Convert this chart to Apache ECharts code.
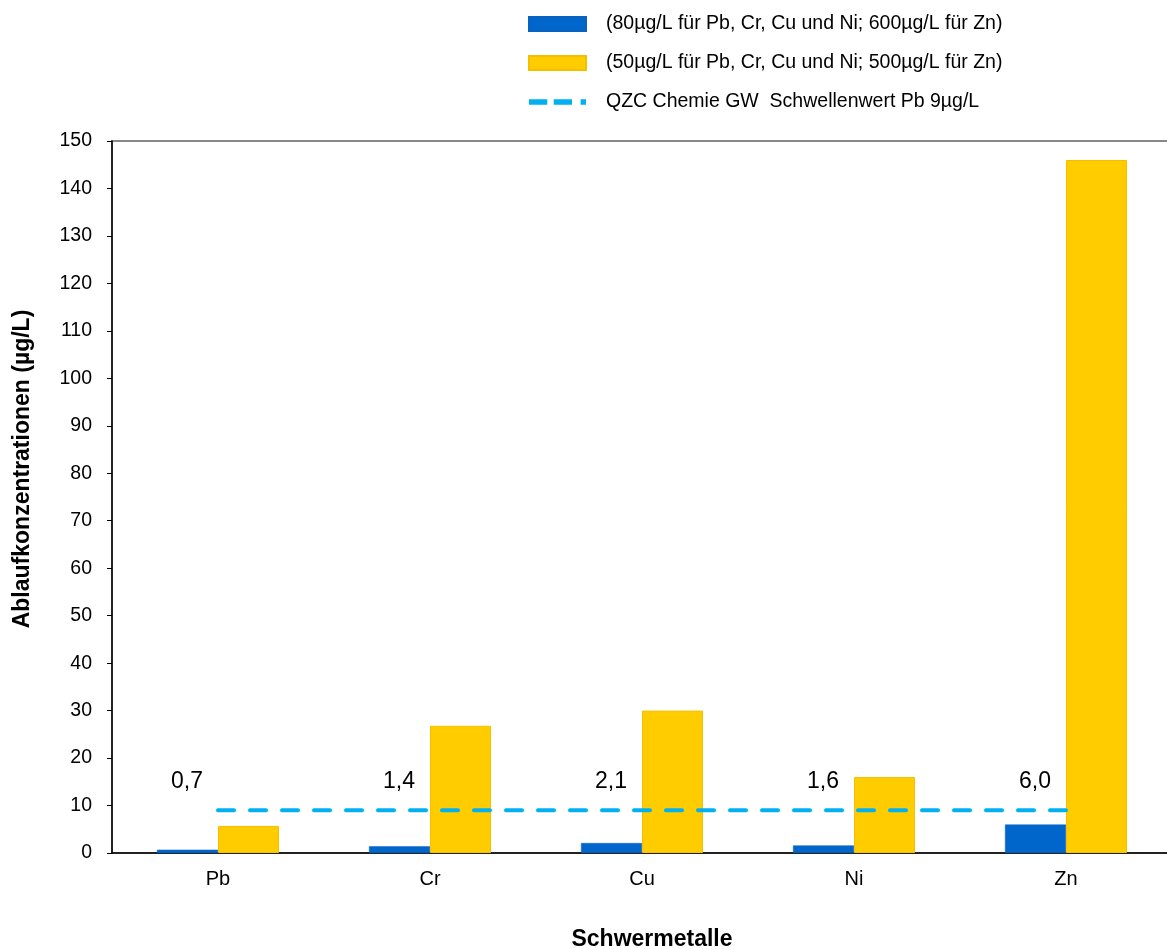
<!DOCTYPE html>
<html lang="de">
<head>
    <meta charset="UTF-8">
    <title>Schwermetalle</title>
    <script src="https://cdn.jsdelivr.net/npm/echarts@6/dist/echarts.min.js"></script>
    <style>
        html, body { margin: 0; padding: 0; background: #fff; }
        #cc { width: 1167px; height: 949px; }
    </style>
</head>
<body>
<div id="cc"></div>
<script>
var categories = ['Pb', 'Cr', 'Cu', 'Ni', 'Zn'];
var blueName = '(80µg/L für Pb, Cr, Cu und Ni; 600µg/L für Zn)';
var yellowName = '(50µg/L für Pb, Cr, Cu und Ni; 500µg/L für Zn)';
var lineName = 'QZC Chemie GW  Schwellenwert Pb 9µg/L';
var blueValues = [0.7, 1.4, 2.1, 1.6, 6.0];
var yellowValues = [5.7, 26.8, 30.0, 16.0, 146.0];
var thresholdValues = [9, 9, 9, 9, 9];
var labelLevel = 15;   // height where the value labels sit

var font = '"Liberation Sans", Arial, sans-serif';
var chart = echarts.init(document.getElementById('cc'));

// dashed legend symbol for the threshold line
var dashIcon = 'path://M0,0h17v5h-17z M23,0h17v5h-17z M48,0h5v5h-5z';

chart.setOption({
    animation: false,
    grid: {
        left: 112, top: 141, width: 1060, height: 712,
        outerBoundsMode: 'none',
        show: true, borderColor: '#888', borderWidth: 2,
        backgroundColor: 'transparent'
    },
    legend: {
        orient: 'vertical',
        left: 528, top: 14, padding: 0,
        itemWidth: 57, itemHeight: 14, itemGap: 19,
        data: [
            { name: blueName, icon: 'rect' },
            { name: yellowName, icon: 'rect' },
            { name: lineName, icon: dashIcon, itemStyle: { color: '#00B0F0' }, lineStyle: { opacity: 0, width: 0 } }
        ],
        textStyle: { fontFamily: font, fontSize: 19.5, color: '#000', padding: [0, 0, 0, 15] }
    },
    xAxis: {
        type: 'category',
        data: categories,
        name: 'Schwermetalle',
        nameLocation: 'middle',
        nameGap: 75,
        nameTextStyle: { fontFamily: font, fontSize: 23, fontWeight: 'bold', color: '#000', padding: [0, 0, 0, 20] },
        axisLine: { lineStyle: { color: '#000', width: 1.5 } },
        axisTick: { length: 7, lineStyle: { color: '#000' } },
        axisLabel: { fontFamily: font, fontSize: 20, color: '#000', margin: 16 }
    },
    yAxis: {
        type: 'value',
        min: 0, max: 150, interval: 10,
        name: 'Ablaufkonzentrationen (µg/L)',
        nameLocation: 'middle',
        nameGap: 78,
        nameTextStyle: { fontFamily: font, fontSize: 23, fontWeight: 'bold', color: '#000', padding: [0, 0, 0, 56] },
        axisLine: { show: true, lineStyle: { color: '#000', width: 1.5 } },
        axisTick: { show: true, length: 5, lineStyle: { color: '#000' } },
        axisLabel: { fontFamily: font, fontSize: 19.5, color: '#000', margin: 20 },
        splitLine: { show: false }
    },
    series: [{
        name: blueName,
        type: 'bar',
        data: blueValues,
        barWidth: 61,
        barGap: '0%',
        itemStyle: { color: '#0066CC', borderColor: '#0A62C0', borderWidth: 0.5 }
    }, {
        name: yellowName,
        type: 'bar',
        data: yellowValues,
        barWidth: 61,
        barGap: '0%',
        itemStyle: { color: '#FFCC00', borderColor: '#F5BF00', borderWidth: 1 }
    }, {
        name: lineName,
        type: 'line',
        data: thresholdValues,
        symbol: 'none',
        z: 5,
        lineStyle: { color: '#00B0F0', width: 4, type: [16, 16], cap: 'round' },
        itemStyle: { color: '#00B0F0' }
    }, {
        name: 'labels',
        type: 'scatter',
        data: blueValues.map(function (v, i) { return [i, labelLevel, v]; }),
        symbolSize: 0,
        silent: true,
        label: {
            show: true,
            position: 'inside',
            offset: [-31, 0],
            fontFamily: font, fontSize: 23, color: '#000', opacity: 1,
            formatter: function (p) { return p.value[2].toFixed(1).replace('.', ','); }
        }
    }]
});
</script>
</body>
</html>
